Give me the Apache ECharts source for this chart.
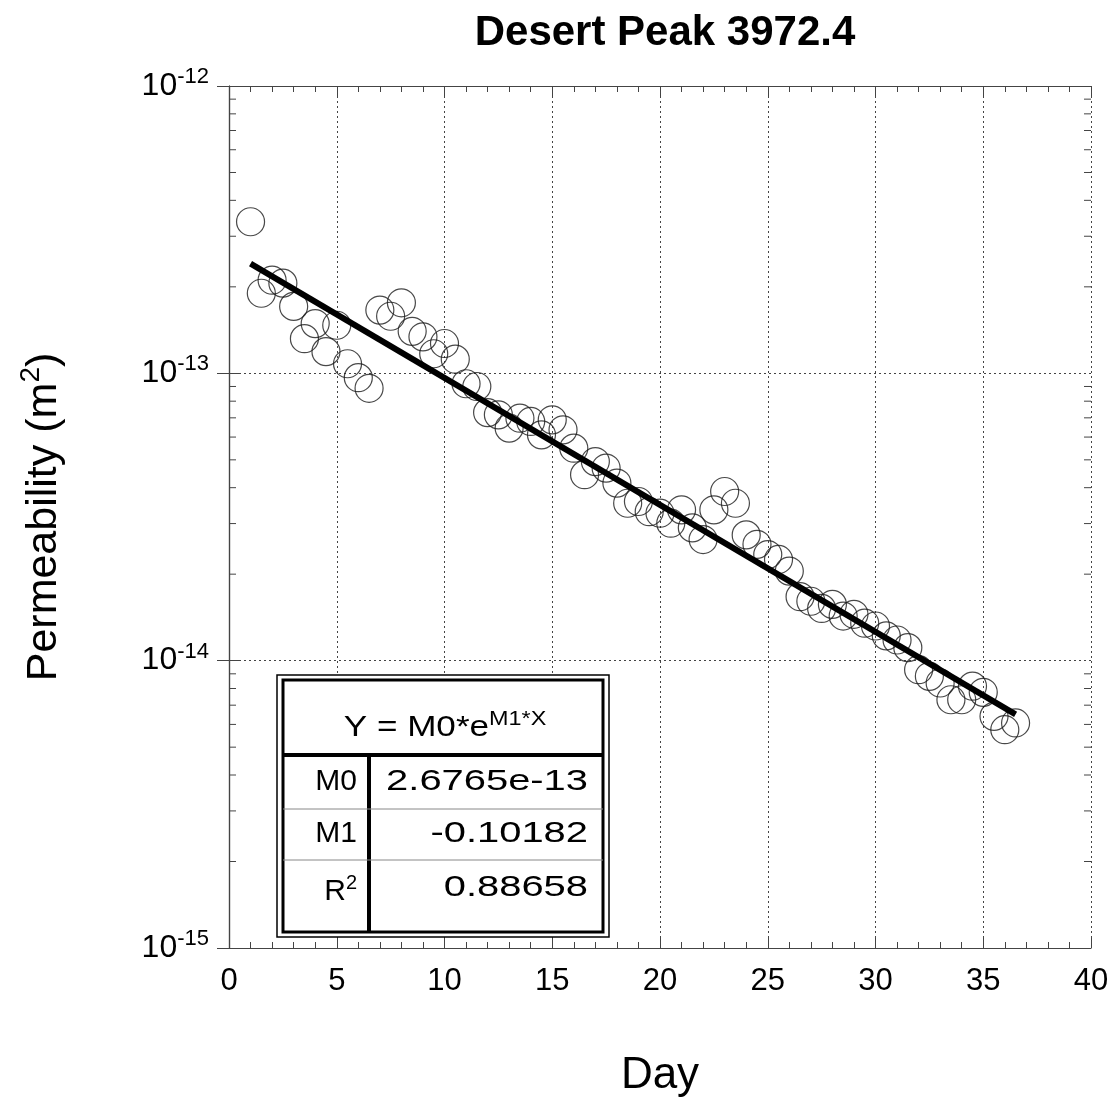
<!DOCTYPE html>
<html>
<head>
<meta charset="utf-8">
<script src="https://cdn.jsdelivr.net/npm/echarts@6/dist/echarts.min.js"></script>
<style>
  html, body { margin: 0; padding: 0; background: #fff; }
  #chart { width: 1117px; height: 1100px; }
</style>
</head>
<body>
<div id="chart"></div>
<script>
const days = [1, 1.5, 2, 2.5, 3, 3.5, 4, 4.5, 5, 5.5, 6, 6.5, 7, 7.5, 8, 8.5, 9, 9.5,
  10, 10.5, 11, 11.5, 12, 12.5, 13, 13.5, 14, 14.5, 15, 15.5, 16, 16.5, 17, 17.5, 18, 18.5,
  19, 19.5, 20, 20.5, 21, 21.5, 22, 22.5, 23, 23.5, 24, 24.5, 25, 25.5, 26, 26.5, 27, 27.5,
  28, 28.5, 29, 29.5, 30, 30.5, 31, 31.5, 32, 32.5, 33, 33.5, 34, 34.5, 35, 35.5, 36, 36.5]
const permeability = [3.37e-13, 1.90e-13, 2.11e-13, 2.06e-13, 1.71e-13, 1.32e-13, 1.49e-13, 1.19e-13,
  1.47e-13, 1.08e-13, 9.66e-14, 8.87e-14, 1.66e-13, 1.58e-13, 1.76e-13, 1.40e-13, 1.34e-13, 1.17e-13,
  1.27e-13, 1.12e-13, 9.2e-14, 9.0e-14, 7.3e-14, 7.17e-14, 6.45e-14, 6.98e-14, 6.80e-14, 6.11e-14,
  6.89e-14, 6.36e-14, 5.49e-14, 4.44e-14, 4.93e-14, 4.68e-14, 4.15e-14, 3.53e-14, 3.58e-14, 3.30e-14,
  3.26e-14, 3.01e-14, 3.35e-14, 2.90e-14, 2.64e-14, 3.35e-14, 3.88e-14, 3.53e-14, 2.74e-14, 2.54e-14,
  2.34e-14, 2.25e-14, 2.05e-14, 1.67e-14, 1.61e-14, 1.52e-14, 1.57e-14, 1.43e-14, 1.45e-14, 1.35e-14,
  1.32e-14, 1.22e-14, 1.18e-14, 1.11e-14, 9.3e-15, 8.82e-15, 8.36e-15, 7.31e-15, 7.31e-15, 8.15e-15,
  7.76e-15, 6.40e-15, 5.75e-15, 6.07e-15]

// fitted line end points (straight on the log axis)
const fitDays = [1, 36.5]
const fitValues = [2.41e-13, 6.5e-15]

// fit table
const fitFormula = 'Y = M0*e'
const fitFormulaSup = 'M1*X'
const fitNames = ['M0', 'M1']
const fitNumbers = ['2.6765e-13', '-0.10182', '0.88658']

// minor log ticks
const decades = [-15, -14, -13]
const minorSteps = [2, 3, 4, 5, 6, 7, 8, 9]

const chart = echarts.init(document.getElementById('chart'))

const FONT = 'Liberation Sans'
const AXIS_COLOR = '#444'

const minorTickData = []
decades.forEach(d => minorSteps.forEach(m => minorTickData.push([0, m * Math.pow(10, d)])))

const ySuper = {
  b: { fontSize: 32, fontFamily: FONT, color: '#000' },
  s: { fontSize: 22, fontFamily: FONT, color: '#000', padding: [0, 0, 18, 0] }
}

const xBase = {
  type: 'value',
  min: 0,
  max: 40,
  interval: 5,
  axisLine: { show: true, lineStyle: { color: AXIS_COLOR, width: 1.2 } },
  axisTick: { show: true, inside: true, length: 12, lineStyle: { color: AXIS_COLOR } },
  minorTick: { show: true, splitNumber: 5, length: 6, lineStyle: { color: AXIS_COLOR } }
}

const yBase = {
  type: 'log',
  logBase: 10,
  min: 1e-15,
  max: 1e-12,
  axisLine: { show: true, lineStyle: { color: AXIS_COLOR, width: 1.2 } },
  axisTick: { show: true, inside: true, length: 12, lineStyle: { color: AXIS_COLOR } }
}

const tableX = 283, tableY = 680, tableW = 320, tableH = 252
const headerY = 755, colX = 369, row1Y = 809, row2Y = 860
const numRight = 588, nameRight = 357

const numStyle = { fontFamily: FONT, fontSize: 30, fill: '#000', align: 'right', verticalAlign: 'middle' }

const options = {
  backgroundColor: '#fff',
  animation: false,
  title: {
    text: 'Desert Peak 3972.4',
    left: 660,
    top: 7,
    textAlign: 'center',
    textStyle: { fontFamily: FONT, fontWeight: 'bold', fontSize: 42, color: '#000' }
  },
  grid: { left: 229, right: 26, top: 86, bottom: 152, outerBoundsMode: 'none' },
  xAxis: [
    Object.assign({}, xBase, {
      position: 'bottom',
      name: 'Day',
      nameLocation: 'middle',
      nameGap: 106,
      nameTextStyle: { fontFamily: FONT, fontSize: 44, color: '#000' },
      axisLabel: { fontFamily: FONT, fontSize: 31, color: '#000', margin: 18 },
      splitLine: { show: true, lineStyle: { color: AXIS_COLOR, type: [2, 3], width: 1 } }
    }),
    Object.assign({}, xBase, {
      position: 'top',
      axisLabel: { show: false },
      splitLine: { show: false }
    })
  ],
  yAxis: [
    Object.assign({}, yBase, {
      position: 'left',
      name: 'Permeability (m{s|2})',
      nameLocation: 'middle',
      nameRotate: 90,
      nameGap: 158,
      nameTextStyle: {
        fontFamily: FONT, fontSize: 43, color: '#000',
        rich: { s: { fontFamily: FONT, fontSize: 28, color: '#000', padding: [0, 0, 26, 0] } }
      },
      axisLabel: {
        margin: 20,
        formatter: v => '{b|10}{s|' + Math.round(Math.log10(v)) + '}',
        rich: ySuper
      },
      splitLine: { show: true, lineStyle: { color: AXIS_COLOR, type: [2, 3], width: 1 } }
    }),
    Object.assign({}, yBase, {
      position: 'right',
      axisLabel: { show: false },
      splitLine: { show: false }
    })
  ],
  series: [
    {
      type: 'custom',
      silent: true,
      data: minorTickData,
      renderItem(params, api) {
        const y = api.coord([0, api.value(1)])[1]
        const cs = params.coordSys
        const style = { stroke: AXIS_COLOR, lineWidth: 1 }
        return {
          type: 'group',
          children: [
            { type: 'line', shape: { x1: cs.x, y1: y, x2: cs.x + 7, y2: y }, style },
            { type: 'line', shape: { x1: cs.x + cs.width - 7, y1: y, x2: cs.x + cs.width, y2: y }, style }
          ]
        }
      }
    },
    {
      type: 'scatter',
      symbol: 'circle',
      symbolSize: 28,
      data: days.map((d, i) => [d, permeability[i]]),
      itemStyle: { color: 'rgba(0,0,0,0)', borderColor: '#1a1a1a', borderWidth: 1.2 }
    },
    {
      type: 'line',
      data: fitDays.map((d, i) => [d, fitValues[i]]),
      symbol: 'none',
      lineStyle: { color: '#000', width: 6, cap: 'butt' },
      z: 5
    }
  ],
  graphic: [
    {
      type: 'rect', z: 100,
      shape: { x: tableX - 6, y: tableY - 5, width: tableW + 12, height: tableH + 10 },
      style: { fill: '#fff', stroke: '#000', lineWidth: 1.5 }
    },
    {
      type: 'rect', z: 101,
      shape: { x: tableX, y: tableY, width: tableW, height: tableH },
      style: { fill: '#fff', stroke: '#000', lineWidth: 3 }
    },
    {
      type: 'line', z: 102,
      shape: { x1: tableX, y1: headerY, x2: tableX + tableW, y2: headerY },
      style: { stroke: '#000', lineWidth: 4 }
    },
    {
      type: 'line', z: 102,
      shape: { x1: colX, y1: headerY, x2: colX, y2: tableY + tableH },
      style: { stroke: '#000', lineWidth: 4 }
    },
    {
      type: 'line', z: 102,
      shape: { x1: tableX, y1: row1Y, x2: tableX + tableW, y2: row1Y },
      style: { stroke: '#888', lineWidth: 1 }
    },
    {
      type: 'line', z: 102,
      shape: { x1: tableX, y1: row2Y, x2: tableX + tableW, y2: row2Y },
      style: { stroke: '#888', lineWidth: 1 }
    },
    {
      type: 'text', z: 103,
      x: 445, y: 728, scaleX: 1.17,
      style: {
        text: fitFormula + '{s|' + fitFormulaSup + '}',
        fontFamily: FONT, fontSize: 30, fill: '#000',
        align: 'center', verticalAlign: 'middle',
        rich: { s: { fontFamily: FONT, fontSize: 20, fill: '#000', padding: [0, 0, 18, 0] } }
      }
    },
    {
      type: 'text', z: 103, x: nameRight, y: 782,
      style: Object.assign({}, numStyle, { text: fitNames[0] })
    },
    {
      type: 'text', z: 103, x: nameRight, y: 834,
      style: Object.assign({}, numStyle, { text: fitNames[1] })
    },
    {
      type: 'text', z: 103, x: nameRight, y: 892,
      style: Object.assign({}, numStyle, {
        text: 'R{s|2}',
        rich: { s: { fontFamily: FONT, fontSize: 20, fill: '#000', padding: [0, 0, 18, 0] } }
      })
    },
    {
      type: 'text', z: 103, x: numRight, y: 782, scaleX: 1.33,
      style: Object.assign({}, numStyle, { text: fitNumbers[0] })
    },
    {
      type: 'text', z: 103, x: numRight, y: 834, scaleX: 1.33,
      style: Object.assign({}, numStyle, { text: fitNumbers[1] })
    },
    {
      type: 'text', z: 103, x: numRight, y: 888, scaleX: 1.33,
      style: Object.assign({}, numStyle, { text: fitNumbers[2] })
    }
  ]
}

chart.setOption(options)
</script>
</body>
</html>
